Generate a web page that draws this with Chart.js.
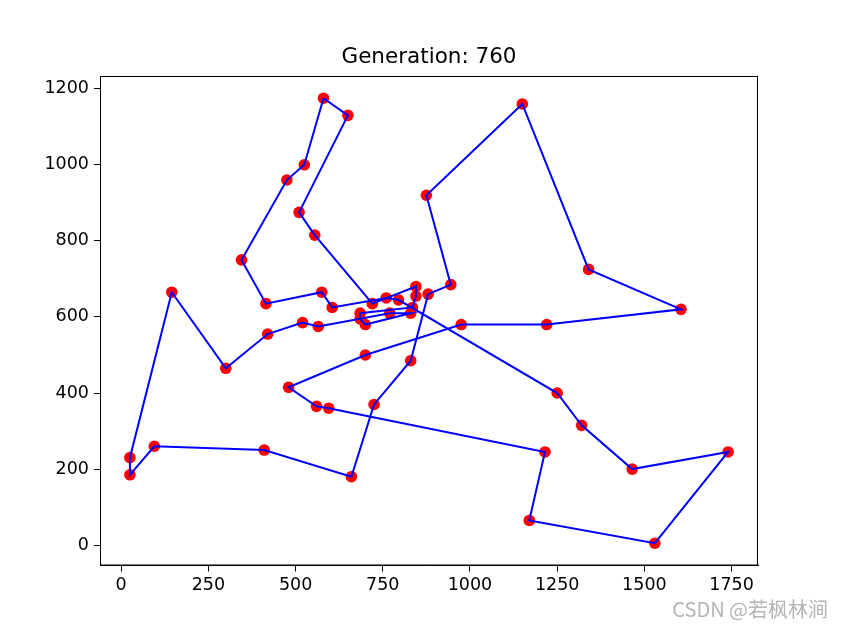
<!DOCTYPE html>
<html>
<head>
<meta charset="utf-8">
<script src="https://cdn.jsdelivr.net/npm/chart.js@4"></script>
<style>
  html, body { margin: 0; padding: 0; background: #fff; }
  #box { width: 842px; height: 629px; }
</style>
</head>
<body>
<div id="box"><canvas id="tsp" width="842" height="629"></canvas></div>
<script>
// cities (berlin52), numbered 1..52
const cityX = [565, 25, 345, 945, 845, 880, 25, 525, 580, 650, 1605, 1220, 1465, 1530, 845, 725, 145, 415, 510, 560,
               300, 520, 480, 835, 975, 1215, 1320, 1250, 660, 410, 420, 575, 1150, 700, 685, 685, 770, 795, 720, 760,
               475, 95, 875, 700, 555, 830, 1170, 830, 605, 595, 1340, 1740];
const cityY = [575, 185, 750, 685, 655, 660, 230, 1000, 1175, 1130, 620, 580, 200, 5, 680, 370, 665, 635, 875, 365,
               465, 585, 415, 625, 580, 245, 315, 400, 180, 250, 555, 665, 1160, 580, 595, 610, 610, 645, 635, 650,
               960, 260, 920, 500, 815, 485, 65, 610, 625, 360, 725, 245];

// best route at generation 760 (city numbers)
const route = [9, 10, 19, 45, 39, 15, 5, 24, 36, 35, 34, 48, 37, 1, 22, 31, 21, 17, 7, 2, 42, 30, 29, 16, 46, 6, 4,
               43, 33, 51, 11, 12, 25, 44, 23, 20, 50, 26, 47, 14, 52, 13, 27, 28, 38, 40, 49, 32, 18, 3, 41, 8, 9];

const xTicks = [0, 250, 500, 750, 1000, 1250, 1500, 1750];
const yTicks = [0, 200, 400, 600, 800, 1000, 1200];
const titleText = 'Generation: 760';

const cityPoints = cityX.map((x, i) => ({ x: x, y: cityY[i] }));
const routePoints = route.map(n => ({ x: cityX[n - 1], y: cityY[n - 1] }));

// frame + title + watermark
const extras = {
    id: 'extras',
    afterDraw(chart) {
        const ctx = chart.ctx;
        const a = chart.chartArea;
        ctx.save();
        ctx.strokeStyle = '#000';
        ctx.lineWidth = 1;
        ctx.strokeRect(a.left + 0.5, a.top + 0.5, a.right - a.left - 1, a.bottom - a.top - 1);
        ctx.fillStyle = '#000';
        ctx.font = '21.5px "DejaVu Sans"';
        ctx.textAlign = 'center';
        ctx.textBaseline = 'alphabetic';
        ctx.fillText(titleText, (a.left + a.right) / 2, 63);
        ctx.fillStyle = '#b4b4b4';
        ctx.font = '20px "Noto Sans CJK SC", "DejaVu Sans"';
        ctx.textAlign = 'right';
        ctx.fillText('CSDN @若枫林涧', 828, 617);
        ctx.restore();
    }
};

const tickFont = { family: 'DejaVu Sans', size: 17.5 };

new Chart(document.getElementById('tsp'), {
    type: 'scatter',
    data: {
        datasets: [
            {
                data: routePoints,
                showLine: true,
                borderColor: '#0000ff',
                borderWidth: 2,
                pointRadius: 0,
                tension: 0,
                order: 0
            },
            {
                data: cityPoints,
                backgroundColor: '#ff0000',
                borderWidth: 0,
                pointRadius: 5.8,
                order: 1
            }
        ]
    },
    options: {
        responsive: false,
        animation: false,
        layout: { padding: { left: 0, right: 84, top: 76, bottom: 0 } },
        plugins: {
            legend: { display: false },
            tooltip: { enabled: false }
        },
        scales: {
            x: {
                type: 'linear',
                min: -60.75,
                max: 1825.75,
                afterBuildTicks: s => { s.ticks = xTicks.map(v => ({ value: v })); },
                afterFit: s => { s.height = 63.5; },
                grid: { drawOnChartArea: false, drawTicks: true, tickLength: 6, color: '#000' },
                border: { display: true, color: '#000' },
                ticks: { color: '#000', font: tickFont, padding: 3, maxRotation: 0, callback: v => String(v) }
            },
            y: {
                type: 'linear',
                min: -53.5,
                max: 1233.5,
                afterBuildTicks: s => { s.ticks = yTicks.map(v => ({ value: v })); },
                afterFit: s => { s.width = 100; },
                grid: { drawOnChartArea: false, drawTicks: true, tickLength: 6, color: '#000' },
                border: { display: true, color: '#000' },
                ticks: { color: '#000', font: tickFont, padding: 5, callback: v => String(v) }
            }
        }
    },
    plugins: [extras]
});
</script>
</body>
</html>
